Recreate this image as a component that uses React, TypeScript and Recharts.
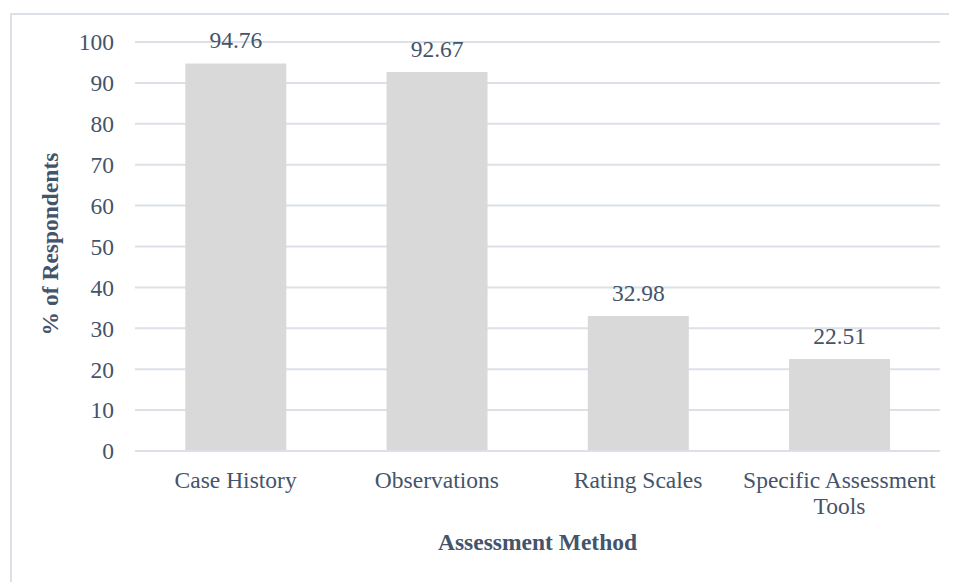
import { BarChart, Bar, XAxis, YAxis, CartesianGrid, LabelList, Label } from 'recharts'

const methods = ['Case History', 'Observations', 'Rating Scales', 'Specific Assessment\nTools']
const respondents = [94.76, 92.67, 32.98, 22.51]
const yTicks = [0, 10, 20, 30, 40, 50, 60, 70, 80, 90, 100]

const data = methods.map((method, i) => ({ method, value: respondents[i] }))

const FONT = '"Liberation Serif", "Times New Roman", serif'
const TEXT = '#44546A'
const GRID = '#DCE1E8'
const SIZE = 23.5

function MethodTick(props: any) {
  const { x, y, payload } = props
  const lines = String(payload.value).split('\n')
  return (
    <text x={x} y={y} textAnchor="middle" fontSize={SIZE} fontFamily={FONT} fill={TEXT}>
      {lines.map((line, i) => (
        <tspan key={i} x={x} dy={i === 0 ? '0.71em' : 26}>
          {line}
        </tspan>
      ))}
    </text>
  )
}

export default function App() {
  return (
    <div style={{ position: 'relative', width: 949, height: 574, overflow: 'hidden', background: '#fff' }}>
      <div
        style={{
          position: 'absolute',
          left: 2,
          top: 5,
          width: 1000,
          height: 700,
          borderLeft: `2px solid ${GRID}`,
          borderTop: `2px solid ${GRID}`,
        }}
      />
      <div style={{ position: 'absolute', left: 0, top: 0 }}>
        <BarChart
          width={949}
          height={574}
          data={data}
          margin={{ top: 34, right: 17, bottom: 0, left: 0 }}
          barCategoryGap="25%"
        >
          <CartesianGrid vertical={false} stroke={GRID} strokeWidth={2} />
          <XAxis
            dataKey="method"
            axisLine={{ stroke: GRID, strokeWidth: 2 }}
            tickLine={false}
            tickSize={0}
            tickMargin={20}
            interval={0}
            tick={<MethodTick />}
            height={131}
          >
            <Label
              content={({ viewBox }: any) => (
                <text
                  x={viewBox.x + viewBox.width / 2}
                  y={542}
                  textAnchor="middle"
                  fontFamily={FONT}
                  fontSize={SIZE}
                  fontWeight="bold"
                  fill={TEXT}
                >
                  Assessment Method
                </text>
              )}
            />
          </XAxis>
          <YAxis
            domain={[0, 100]}
            ticks={yTicks}
            interval={0}
            width={127}
            axisLine={false}
            tickLine={false}
            tickSize={0}
            tickMargin={21}
            tick={{ fontSize: SIZE, fontFamily: FONT, fill: TEXT }}
          >
            <Label
              content={() => (
                <text
                  x={0}
                  y={0}
                  transform="translate(50, 236) rotate(-90)"
                  textAnchor="middle"
                  fontFamily={FONT}
                  fontSize={SIZE}
                  fontWeight="bold"
                  fill={TEXT}
                >
                  % of Respondents
                </text>
              )}
            />
          </YAxis>
          <Bar dataKey="value" fill="#D9D9D9" isAnimationActive={false}>
            <LabelList
              dataKey="value"
              position="top"
              offset={15}
              style={{ fontSize: SIZE, fontFamily: FONT, fill: TEXT }}
            />
          </Bar>
        </BarChart>
      </div>
    </div>
  )
}
